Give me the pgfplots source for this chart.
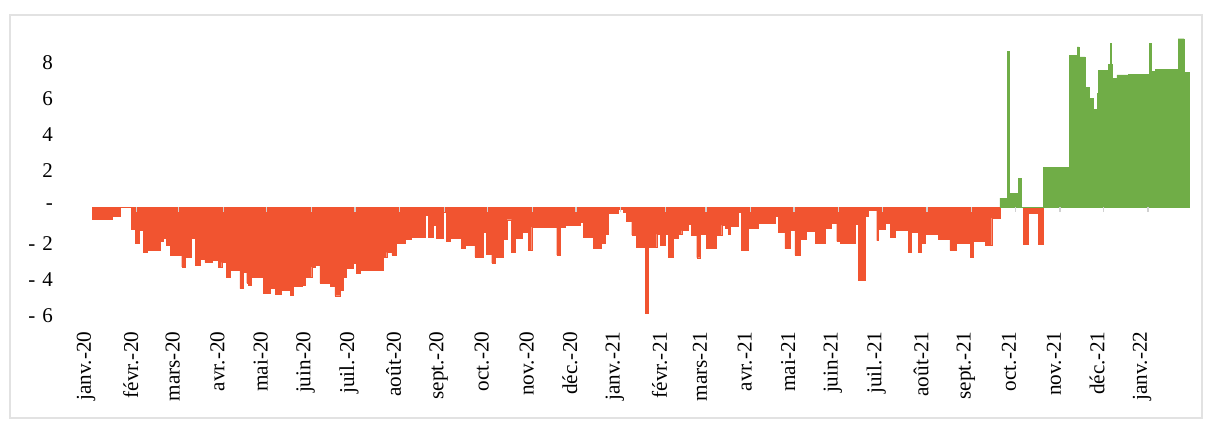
\documentclass[border=0pt]{standalone}
\usepackage{pgfplots}
\pgfplotsset{compat=1.18}
\usepackage{fontspec}
\setmainfont{Liberation Serif}
\definecolor{redc}{RGB}{241,84,48}
\definecolor{greenc}{RGB}{112,173,71}
\definecolor{framec}{RGB}{226,226,226}
\begin{document}
\begin{tikzpicture}
\path[use as bounding box] (0,0) rectangle (605bp,-210.5bp);
\draw[framec, line width=1bp] (5bp,-7.5bp) rectangle (601bp,-209bp);
\begin{axis}[
  at={(46bp,-162.35bp)}, anchor=south west,
  scale only axis, width=550.4bp, height=145.7bp,
  xmin=0, xmax=762, ymin=-6.5, ymax=9.6,
  axis line style={draw=none},
  tick style={draw=none},
  ytick={-6,-4,-2,0,2,4,6,8},
  yticklabels={-\hspace{3.5bp}6,-\hspace{3.5bp}4,-\hspace{3.5bp}2,-\hspace{6.5bp},2,4,6,8},
  yticklabel style={font=\fontsize{10.5bp}{12bp}\selectfont, xshift=-16bp},
  xtick={0,31,60,91,121,152,182,213,244,274,305,335,366,397,425,456,486,517,547,578,609,639,670,700,731},
  xticklabels={janv.-20,févr.-20,mars-20,avr.-20,mai-20,juin-20,juil.-20,août-20,sept.-20,oct.-20,nov.-20,déc.-20,janv.-21,févr.-21,mars-21,avr.-21,mai-21,juin-21,juil.-21,août-21,sept.-21,oct.-21,nov.-21,déc.-21,janv.-22},
  xticklabel style={font=\fontsize{10.6bp}{12bp}\selectfont, rotate=90, anchor=east, yshift=3bp},
  clip=false,
]
\addplot[const plot mark left, fill=redc, draw=redc, line width=0.2bp] coordinates {
(0,-0.65) (13.8,-0.5) (19.4,0) (27.0,-1.2) (29.8,-2.0) (32.5,-1.3) (35.5,-2.5) (37.9,-2.4) (47.1,-1.9) (49.4,-1.7) (51.7,-2.1) (54.0,-2.65) (62.1,-3.3) (64.4,-2.75) (69.0,-1.7) (71.3,-3.2) (74.8,-2.9) (78.2,-3.05) (82.9,-2.95) (87.4,-3.3) (89.8,-3.05) (93.2,-3.9) (95.5,-3.5) (102.4,-4.5) (104.7,-3.6) (107.1,-4.2) (108.2,-4.3) (110.5,-3.9) (118.6,-4.75) (123.2,-4.5) (126.7,-4.8) (131.3,-4.6) (137.1,-4.85) (139.3,-4.4) (145.2,-4.3) (147.4,-3.9) (152.1,-3.3) (154.4,-3.2) (157.8,-4.2) (164.8,-4.4) (168.2,-4.9) (171.7,-4.6) (174.0,-3.9) (176.3,-3.4) (180.9,-3.1) (183.2,-3.65) (185.5,-3.5) (201.6,-2.75) (204.0,-2.5) (207.5,-2.65) (210.9,-2.0) (216.7,-1.8) (221.3,-1.65) (230.5,-0.45) (232.8,-1.65) (236.3,-1.0) (238.6,-1.7) (243.2,-0.3) (245.5,-1.9) (247.8,-1.7) (255.9,-2.3) (258.2,-2.1) (265.1,-2.75) (270.9,-1.4) (273.2,-2.6) (276.7,-3.1) (279.0,-2.75) (284.7,-1.8) (287.1,-0.7) (290.5,-2.5) (292.8,-1.7) (297.5,-1.4) (302.0,-2.4) (304.4,-1.1) (321.7,-2.65) (324.0,-1.1) (327.4,-1.0) (337.8,-0.85) (340.1,-1.65) (347.0,-2.3) (352.8,-2.0) (355.1,-1.5) (357.4,-0.35) (364.3,-0.1) (367.8,-0.3) (370.1,-0.8) (373.6,-1.55) (377.0,-2.2) (382.8,-5.85) (385.1,-2.2) (390.9,-1.5) (393.2,-2.1) (396.6,-1.5) (398.9,-2.75) (402.4,-1.7) (405.9,-1.5) (408.2,-1.3) (412.8,-0.95) (415.1,-1.55) (418.6,-2.8) (420.9,-1.5) (425.5,-2.3) (432.4,-1.55) (435.9,-1.0) (438.2,-1.15) (440.5,-1.5) (441.6,-1.05) (447.4,-0.3) (449.7,-2.4) (454.3,-1.15) (461.2,-0.9) (472.8,-0.5) (475.1,-1.4) (479.7,-2.3) (483.2,-1.3) (486.6,-2.65) (490.1,-1.8) (494.7,-1.35) (500.5,-2.0) (507.4,-1.15) (512.0,-0.9) (515.5,-1.9) (517.8,-2.0) (528.2,-0.95) (530.5,-4.05) (535.1,-0.5) (537.4,-0.2) (543.2,-1.85) (544.3,-1.2) (549.0,-0.9) (552.4,-1.65) (555.9,-1.3) (565.1,-2.5) (567.4,-1.4) (572.0,-2.5) (574.3,-2.0) (576.6,-1.5) (585.8,-1.8) (593.9,-2.4) (598.5,-2.0) (607.8,-2.75) (610.0,-1.9) (618.2,-2.1) (622.8,-0.6) (628.5,0) (644.5,-2.05) (647.9,-0.35) (654.9,-2.05) (658.3,0)
} \closedcycle;
\addplot[const plot mark left, fill=greenc, draw=greenc, line width=0.2bp] coordinates {
(628.5,0.5) (633.4,8.6) (634.6,0.75) (641.0,1.6) (643.1,0) (658.3,2.2) (676.3,8.4) (681.9,8.85) (683.2,8.3) (687.4,6.6) (690.2,6.0) (692.9,5.4) (695.7,6.3) (696.4,7.55) (703.3,7.9) (704.7,9.05) (705.8,7.9) (706.5,7.1) (709.5,7.3) (717.2,7.35) (731.7,9.05) (733.1,7.5) (735.9,7.6) (751.1,7.5) (751.8,9.3) (755.9,7.45) (759.4,0)
} \closedcycle;
\addplot[ycomb, no marks, draw=white!82!black, line width=0.6bp] coordinates {
(31,-0.28) (60,-0.28) (91,-0.28) (121,-0.28) (152,-0.28) (182,-0.28) (213,-0.28) (244,-0.28) (274,-0.28) (305,-0.28) (335,-0.28) (366,-0.28) (397,-0.28) (425,-0.28) (456,-0.28) (486,-0.28) (517,-0.28) (547,-0.28) (578,-0.28) (609,-0.28) (639,-0.28) (670,-0.28) (700,-0.28) (731,-0.28)
};
\end{axis}
\end{tikzpicture}
\end{document}
